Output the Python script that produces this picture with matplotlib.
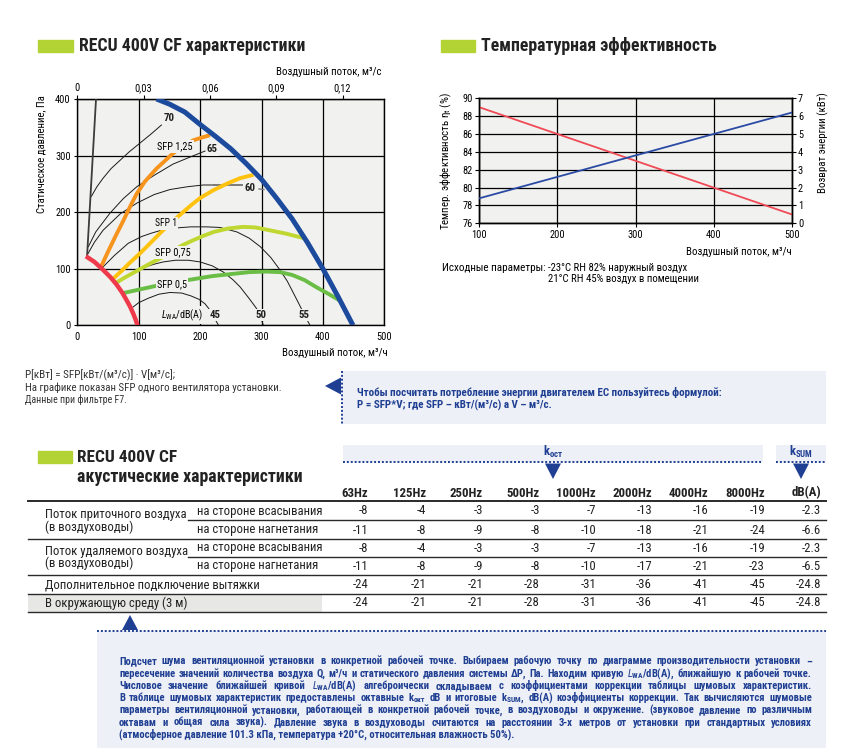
import matplotlib
matplotlib.use("Agg")
import matplotlib.pyplot as plt
import matplotlib.font_manager as fm
from matplotlib.patches import Rectangle, Polygon

# ---- left chart: fan characteristics (flow m3/h, pressure Pa) ----
blue_q = [129, 150, 175, 200, 225, 250, 275, 300, 325, 350, 375, 400, 425, 449]
blue_p = [400, 391, 377, 355, 334, 312, 286, 258, 224, 188, 146, 100, 50, 0]
red_q = [14, 28, 42, 54, 64, 73, 80, 86, 91, 95, 98]
red_p = [122, 112, 98, 85, 72, 58, 45, 33, 21, 10, 0]
gray_q = [16, 30.5]
gray_p = [124, 400]

db70_q = [23, 32, 42, 55, 70, 85, 102, 120, 137]
db70_p = [228, 245, 260, 277, 292, 307, 322, 338, 354]
db65_q = [18, 30, 53, 75, 97, 125, 156, 185, 208]
db65_p = [139, 165, 198, 224, 245, 265, 285, 298, 308]
db60_q = [16, 28, 42, 70, 97, 125, 151, 180, 205, 222]
db60_p = [124, 147, 168, 197, 216, 231, 240, 245, 248, 248]
db60_lead_q = [222, 268]
db60_lead_p = [248, 248]
db60_dash_q = [296, 304]
db60_dash_p = [241, 240]
db55_q = [40, 60, 83, 105, 121, 140, 160, 185, 210, 232, 260, 280, 298, 315, 330, 342, 352, 360, 366, 372, 379]
db55_p = [101, 123, 145, 157, 163, 169, 172, 174, 174, 173, 165, 154, 139, 120, 98, 78, 57, 40, 27, 14, 0]
db50_q = [64, 85, 105, 125, 140, 160, 181, 200, 220, 238, 254, 265, 278, 287, 295, 303]
db50_p = [73, 90, 101, 108, 112, 115, 115, 112, 105, 94, 80, 68, 50, 37, 25, 0]
db45_q = [88, 100, 116, 133, 151, 170, 185, 198, 208, 216, 222, 230]
db45_p = [30, 40, 48, 55, 58, 57, 52, 46, 38, 27, 15, 0]

sfp125_q = [38, 50, 62, 75, 87, 97, 110, 129, 145, 156, 172, 189, 203, 216]
sfp125_p = [102, 130, 157, 185, 212, 233, 254, 277, 293, 304, 317, 327, 332, 336]
sfp1_q = [58, 72, 85, 100, 115, 135, 150, 167, 185, 200, 222, 245, 265, 287]
sfp1_p = [82, 96, 110, 125, 141, 163, 179, 195, 212, 225, 239, 251, 260, 266]
sfp075_q = [61, 80, 100, 120, 140, 156, 172, 190, 205, 222, 245, 270, 290, 313, 340, 369]
sfp075_p = [74, 86, 98, 110, 121, 132, 142, 151, 158, 165, 171, 174, 173, 168, 162, 154]
sfp05_q = [75, 100, 121, 153, 186, 220, 254, 280, 308, 330, 350, 370, 390, 410, 427]
sfp05_p = [57, 63, 68, 76, 81, 87, 91, 94, 95, 94, 89, 80, 67, 55, 44]

top_ticks = [0, 0.03, 0.06, 0.09, 0.12]
top_labels = ["0", "0,03", "0,06", "0,09", "0,12"]

# ---- right chart: temperature efficiency ----
eff_flow = [100, 200, 300, 400, 500]
eff_pct = [89, 86, 83, 80, 77]
recovery_kw = [1.4, 2.6, 3.8, 5.0, 6.2]

# ---- acoustic table ----
bands = ["63Hz", "125Hz", "250Hz", "500Hz", "1000Hz", "2000Hz", "4000Hz", "8000Hz", "dB(A)"]
supply_suction = [-8, -4, -3, -3, -7, -13, -16, -19, -2.3]
supply_discharge = [-11, -8, -9, -8, -10, -18, -21, -24, -6.6]
exhaust_suction = [-8, -4, -3, -3, -7, -13, -16, -19, -2.3]
exhaust_discharge = [-11, -8, -9, -8, -10, -17, -21, -23, -6.5]
extra_exhaust = [-24, -21, -21, -28, -31, -36, -41, -45, -24.8]
surroundings = [-24, -21, -21, -28, -31, -36, -41, -45, -24.8]

paragraph = [
    "Подсчет шума вентиляционной установки в конкретной рабочей точке. Выбираем рабочую точку по диаграмме производительности установки –",
    "пересечение значений количества воздуха Q, м³/ч и статического давления системы ΔP, Па. Находим кривую $L_{\\mathregular{WA}}$/dB(A), ближайшую к рабочей точке.",
    "Числовое значение ближайшей кривой $L_{\\mathregular{WA}}$/dB(A) алгеброически складываем с коэффициентами коррекции таблицы шумовых характеристик.",
    "В таблице шумовых характеристик предоставлены октавные k$_{\\mathregular{окт}}$ dB и итоговые k$_{\\mathregular{SUM}}$, dB(A) коэффициенты коррекции. Так вычисляются шумовые",
    "параметры вентиляционной установки, работающей в конкретной рабочей точке, в воздуховоды и окружение. (звуковое давление по различным",
    "октавам и общая сила звука). Давление звука в воздуховоды считаются на расстоянии 3-х метров от установки при стандартных условиях",
    "(атмосферное давление 101.3 кПа, температура +20°C, относительная влажность 50%).",
]


def pick_font():
    stretches = {}
    for f in fm.fontManager.ttflist:
        stretches.setdefault(f.name, set()).add(str(f.stretch))
    for n in ["Liberation Sans Narrow", "Roboto Condensed", "Open Sans Condensed",
              "Noto Sans Condensed", "DejaVu Sans Condensed", "Arial Narrow"]:
        if n in stretches:
            return n, "normal"
    for n in ["Roboto", "Noto Sans", "Open Sans", "DejaVu Sans", "Liberation Sans"]:
        for st in ["semi-condensed", "condensed"]:
            if st in stretches.get(n, ()):
                return n, st
    return "Liberation Sans", "normal"


narrow, stretch = pick_font()
plt.rcParams["font.family"] = [narrow, "DejaVu Sans"]
plt.rcParams["font.stretch"] = stretch
plt.rcParams["mathtext.fontset"] = "custom"
plt.rcParams["mathtext.rm"] = narrow
plt.rcParams["mathtext.it"] = narrow + ":italic"

W, H = 846, 748
LIME = "#b3d234"
NAVY = "#1f3f93"
BOXBG = "#eef0f7"
PLOTBG = "#f1f1ef"
INK = "#222222"

fig = plt.figure(figsize=(W / 100, H / 100), dpi=100)
canvas = fig.add_axes([0, 0, 1, 1])
canvas.set_xlim(0, W)
canvas.set_ylim(H, 0)
canvas.axis("off")
renderer = fig.canvas.get_renderer()


def axes_px(x0, y0, x1, y1):
    return fig.add_axes([x0 / W, 1 - y1 / H, (x1 - x0) / W, (y1 - y0) / H])


def fit(t, width):
    # scale a text so it spans the width it has in the reference
    w = t.get_window_extent(renderer).width
    t.set_fontsize(t.get_fontsize() * width / w)
    return t


# ---------- titles ----------
canvas.add_patch(Rectangle((38, 39.5), 35, 12.5, color=LIME))
fit(canvas.text(79, 46, "RECU 400V CF характеристики", fontsize=12, fontweight="bold",
                va="center", color=INK), 226)
canvas.add_patch(Rectangle((440.5, 39.5), 34, 12.5, color=LIME))
fit(canvas.text(481, 46, "Температурная эффективность", fontsize=12, fontweight="bold",
                va="center", color=INK), 236)

# ---------- left chart ----------
ax1 = axes_px(77.3, 99, 384.3, 325.3)
ax1.set_facecolor(PLOTBG)
ax1.set_xlim(0, 500)
ax1.set_ylim(0, 400)
ax1.set_xticks(range(0, 501, 100))
ax1.set_yticks(range(0, 401, 100))
ax1.grid(True, color="black", lw=0.9)
ax1.set_axisbelow(True)
for s in ax1.spines.values():
    s.set_linewidth(1.0)
ax1.tick_params(axis="x", length=0, pad=5, labelsize=7.5)
ax1.tick_params(axis="y", length=2.5, width=0.8, pad=2.2, labelsize=7.5)

thin = dict(color="#1a1a1a", lw=0.7, zorder=3)
ax1.plot(db70_q, db70_p, **thin)
ax1.plot(db65_q, db65_p, **thin)
ax1.plot(db60_q, db60_p, **thin)
ax1.plot(db55_q, db55_p, **thin)
ax1.plot(db50_q, db50_p, **thin)
ax1.plot(db45_q, db45_p, **thin)
ax1.plot(db60_lead_q, db60_lead_p, color="#7a7a7a", lw=1.4, zorder=3)
ax1.plot(db60_dash_q, db60_dash_p, color="#7a7a7a", lw=1.0, zorder=3)
ax1.plot(gray_q, gray_p, color="#3c3c3c", lw=1.3, zorder=3)

ax1.plot(sfp125_q, sfp125_p, color="#f7941d", lw=2.8, zorder=4, solid_capstyle="butt")
ax1.plot(sfp1_q, sfp1_p, color="#ffc20e", lw=2.8, zorder=4, solid_capstyle="butt")
ax1.plot(sfp075_q, sfp075_p, color="#bfd730", lw=2.8, zorder=4, solid_capstyle="butt")
ax1.plot(sfp05_q, sfp05_p, color="#6abd45", lw=2.8, zorder=4, solid_capstyle="butt")
ax1.plot(red_q, red_p, color="#ee3a4a", lw=3.2, zorder=5, solid_capstyle="butt")
ax1.plot(blue_q, blue_p, color="#1c4a9c", lw=3.6, zorder=6, solid_capstyle="butt")

knock = dict(boxstyle="square,pad=0.12", fc=PLOTBG, ec="none")
for x, y, s, w in [(159, 316, "SFP 1,25", 36), (144, 180, "SFP 1", 22),
                   (155, 129, "SFP 0,75", 36), (154, 72, "SFP 0,5", 30)]:
    fit(ax1.text(x, y, s, fontsize=8, ha="center", va="center", zorder=7, bbox=knock), w)
for x, y, s in [(149, 367, "70"), (220, 311, "65"), (281, 242, "60"),
                (224, 18, "45"), (299, 18, "50"), (369, 18, "55")]:
    fit(ax1.text(x, y, s, fontsize=8, fontweight="bold", ha="center", va="center",
                 zorder=7, bbox=knock, color=INK), 11)
fit(ax1.text(171, 18, "$L_{\\mathregular{WA}}$/dB(A)", fontsize=8.5, ha="center",
             va="center", zorder=7, bbox=knock), 42)

top = ax1.secondary_xaxis("top", functions=(lambda q: q / 3600.0, lambda v: v * 3600.0))
top.set_xticks(top_ticks)
top.set_xticklabels(top_labels)
top.tick_params(length=3, width=0.8, pad=1.5, labelsize=7.5)

fit(canvas.text(382, 72, "Воздушный поток, м³/с", fontsize=8, ha="right", va="center"), 105)
fit(canvas.text(388, 353, "Воздушный поток, м³/ч", fontsize=8, ha="right", va="center"), 106)
t = canvas.text(41.5, 154, "Статическое давление, Па", fontsize=8, rotation=90,
                ha="center", va="center")
t.set_fontsize(8 * 118 / t.get_window_extent(renderer).height)

# ---------- right chart ----------
ax2 = axes_px(479.3, 98.3, 791.7, 223.3)
ax2.set_facecolor(PLOTBG)
ax2.set_xlim(100, 500)
ax2.set_ylim(76, 90)
ax2.set_xticks(range(100, 501, 100))
ax2.set_yticks(range(76, 91, 2))
ax2.grid(True, color="black", lw=0.9)
ax2.set_axisbelow(True)
ax2.tick_params(length=3, width=0.8, pad=1.5, labelsize=7.5)
ax2.plot(eff_flow, eff_pct, color="#ef4a55", lw=1.3, zorder=3)
ax2r = ax2.twinx()
ax2r.set_ylim(0, 7)
ax2r.set_yticks(range(0, 8))
ax2r.tick_params(length=3, width=0.8, pad=1.5, labelsize=7.5)
ax2r.plot(eff_flow, recovery_kw, color="#2a4ba3", lw=1.3, zorder=3)
for a in (ax2, ax2r):
    for s in a.spines.values():
        s.set_linewidth(1.0)

t = canvas.text(446.5, 161, "Темпер. эффективность η$_{\\mathregular{t}}$ (%)", fontsize=8,
                rotation=90, ha="center", va="center")
t.set_fontsize(8 * 138 / t.get_window_extent(renderer).height)
t = canvas.text(823.5, 142.5, "Возврат энергии (кВт)", fontsize=8, rotation=90,
                ha="center", va="center")
t.set_fontsize(8 * 101 / t.get_window_extent(renderer).height)
fit(canvas.text(792, 252, "Воздушный поток, м³/ч", fontsize=8, ha="right", va="center"), 106)
canvas.text(441.5, 267.5, "Исходные параметры:", fontsize=8, va="center")
fit(canvas.text(547.5, 267.5, "-23°C RH 82% наружный воздух", fontsize=8, va="center"), 140)
fit(canvas.text(547.5, 279, "21°C RH 45% воздух в помещении", fontsize=8, va="center"), 151)

# ---------- notes ----------
note_w = [150, 258, 102]
for i, s in enumerate(["P[кВт] = SFP[кВт/(м³/с)] · V[м³/с];",
                       "На графике показан SFP одного вентилятора установки.",
                       "Данные при фильтре F7."]):
    fit(canvas.text(25, 375.5 + 12 * i, s, fontsize=7.2, va="center", color="#333333"),
        note_w[i])

canvas.add_patch(Rectangle((342, 371), 484, 53, color=BOXBG, lw=0))
canvas.plot([342, 342], [371, 424], color=NAVY, lw=1.4, ls=(0, (1, 1)))
canvas.add_patch(Polygon([(325, 386), (341, 377.5), (341, 394.5)], color=NAVY, lw=0))
t = fit(canvas.text(357, 392, "Чтобы посчитать потребление энергии двигателем ЕС пользуйтесь формулой:",
                    fontsize=7.6, fontweight="bold", va="center", color=NAVY), 364)
canvas.text(357, 405, "P = SFP*V; где SFP – кВт/(м³/с) а V – м³/с.", fontsize=t.get_fontsize(),
            fontweight="bold", va="center", color=NAVY)

# ---------- acoustics ----------
canvas.add_patch(Rectangle((38, 450.5), 34, 12.5, color=LIME))
fit(canvas.text(77, 457.5, "RECU 400V CF", fontsize=12, fontweight="bold", va="center",
                color=INK), 100)
fit(canvas.text(77, 477, "акустические характеристики", fontsize=12, fontweight="bold",
                va="center", color=INK), 226)

for x0, x1, xc, lab in [(343, 763, 553, "k$_{\\mathregular{ост}}$"),
                        (776, 826, 801, "k$_{\\mathregular{SUM}}$")]:
    canvas.add_patch(Rectangle((x0, 445), x1 - x0, 17, color=BOXBG, lw=0))
    canvas.plot([x0, x1], [462, 462], color=NAVY, lw=1.4, ls=(0, (1, 1)))
    canvas.add_patch(Polygon([(xc - 8, 463.5), (xc + 8, 463.5), (xc, 479)], color=NAVY, lw=0))
    canvas.text(xc, 452, lab, fontsize=9, ha="center", va="center", color=NAVY,
                fontweight="bold")

col_right = [368, 426, 483, 540, 596, 652, 708, 765, 821]
hdr = None
for xr, b in zip(col_right, bands):
    t = canvas.text(xr, 493, b, fontsize=8.2, fontweight="bold", ha="right", va="center",
                    color=INK)
    if b == "1000Hz":
        hdr = t
hsize = 8.2 * 40 / hdr.get_window_extent(renderer).width
for t in canvas.texts:
    if t.get_text() in bands:
        t.set_fontsize(hsize)

canvas.add_patch(Rectangle((28, 594), 294, 18, color="#e7e8e6", lw=0))
line_kw = dict(color="#2a2a2a", lw=1.0)
canvas.plot([28, 826], [501, 501], color="#2a2a2a", lw=1.4)
for y in [538.5, 575, 594, 612]:
    canvas.plot([28, 826], [y, y], **line_kw)
for y in [520, 556.5]:
    canvas.plot([188, 826], [y, y], **line_kw)

tkw = dict(fontsize=8.5, va="center", color=INK)
ref = canvas.text(45, 514.5, "Поток приточного воздуха", **tkw)
tsize = 8.5 * 140 / ref.get_window_extent(renderer).width
tkw["fontsize"] = tsize
ref.set_fontsize(tsize)
canvas.text(45, 527, "(в воздуховоды)", **tkw)
canvas.text(197, 511, "на стороне всасывания", **tkw)
canvas.text(197, 530, "на стороне нагнетания", **tkw)
canvas.text(45, 551, "Поток удаляемого воздуха", **tkw)
canvas.text(45, 563.5, "(в воздуховоды)", **tkw)
canvas.text(197, 548, "на стороне всасывания", **tkw)
canvas.text(197, 566, "на стороне нагнетания", **tkw)
canvas.text(45, 585, "Дополнительное подключение вытяжки", **tkw)
canvas.text(45, 603, "В окружающую среду (3 м)", **tkw)

rows = [(511, supply_suction), (530, supply_discharge), (548, exhaust_suction),
        (566, exhaust_discharge), (585, extra_exhaust), (603, surroundings)]
for y, vals in rows:
    for xr, v in zip(col_right, vals):
        canvas.text(xr, y, f"{v:g}", ha="right", **tkw)

# ---------- bottom info box ----------
canvas.add_patch(Polygon([(122, 630), (138, 630), (130, 615)], color=NAVY, lw=0))
canvas.add_patch(Rectangle((97, 631), 729, 117, color=BOXBG, lw=0))
canvas.plot([97, 826], [631, 631], color=NAVY, lw=1.4, ls=(0, (1, 1)))

pkw = dict(fontsize=8, fontweight="bold", va="baseline", color=NAVY)
x_left, x_right = 119, 812
probe = [canvas.text(0, 0, s, **pkw) for s in paragraph[:-1]]
widest = max(p.get_window_extent(renderer).width for p in probe)
for p in probe:
    p.remove()
pkw["fontsize"] = 8 * (x_right - x_left) * 0.99 / widest

for i, line in enumerate(paragraph):
    y = 664.5 + 12.2 * i
    if i == len(paragraph) - 1:
        canvas.text(x_left, y, line, **pkw)
        continue
    words = line.split(" ")
    texts = [canvas.text(0, y, w, **pkw) for w in words]
    widths = [t.get_window_extent(renderer).width for t in texts]
    gap = (x_right - x_left - sum(widths)) / (len(words) - 1)
    x = x_left
    for t, w in zip(texts, widths):
        t.set_x(x)
        x += w + gap

fig.savefig("out.png", dpi=100)
